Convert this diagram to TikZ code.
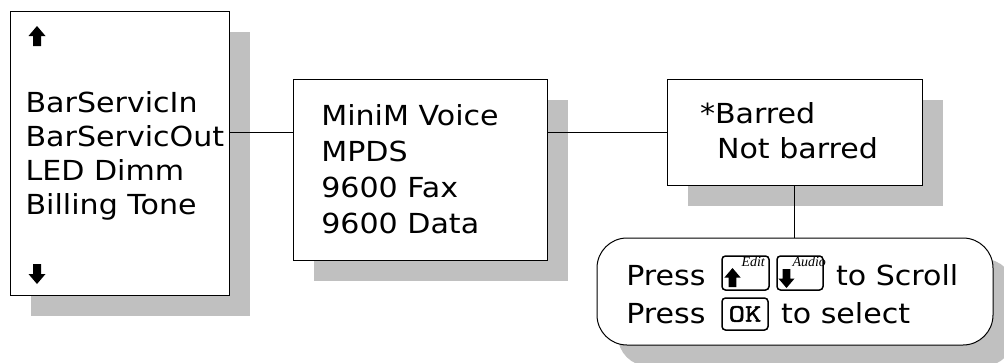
\documentclass[tikz,border=0pt]{standalone}
\usepackage{fontspec}
\setmainfont{DejaVu Sans}[FakeStretch=1.09]
\newfontfamily\keyfont{Liberation Serif}
\newfontfamily\okfont{lmmono10-regular.otf}[FakeBold=2, FakeStretch=1.25]
\usetikzlibrary{shadows}
\definecolor{shgray}{RGB}{192,192,192}
\tikzset{
  menubox/.style={draw, fill=white, line width=1pt, inner sep=0pt, outer sep=0pt,
    drop shadow={shadow xshift=21pt, shadow yshift=-21pt, opacity=1, fill=shgray}},
  helpbox/.style={menubox, rounded corners=30pt},
  keybox/.style={draw, line width=1.5pt, rounded corners=3.5pt, inner sep=0pt, outer sep=0pt},
  lbl/.style={anchor=base west, inner sep=0pt, outer sep=0pt, font=\fontsize{27.6}{33}\selectfont},
  keylbl/.style={anchor=base west, inner sep=0pt, outer sep=0pt, font=\keyfont\itshape\fontsize{14}{16}\selectfont},
  conn/.style={line width=1pt},
  uparr/.pic={\fill (0,0) -- (8.5,10) -- (4,10) -- (4,20) -- (-4,20) -- (-4,10) -- (-8.5,10) -- cycle;}
}
\begin{document}
\begin{tikzpicture}[x=1pt, y=-1pt]
\useasboundingbox (0,0) rectangle (1004,362);
% boxes
\node[menubox, minimum width=219pt, minimum height=284pt] (b1) at (119.5,153) {};
\node[menubox, minimum width=254pt, minimum height=181pt] (b2) at (420,169.5) {};
\node[menubox, minimum width=255pt, minimum height=106pt] (b3) at (794.5,132) {};
\node[helpbox, minimum width=396pt, minimum height=107pt] (hb) at (795,291.5) {};
% connectors
\draw[conn] (b1.east |- b3.west) -- (b2.west |- b3.west);
\draw[conn] (b2.east |- b3.west) -- (b3.west);
\draw[conn] (b3.south) -- (b3.south |- hb.north);
% box 1
\pic at (37,26) {uparr};
\pic[yscale=-1] at (37,284) {uparr};
\node[lbl] (l11) at (25.6,112) {BarServicIn};
\node[lbl] (l12) at (25.6,146.3) {BarServicOut};
\node[lbl] (l13) at (25.6,180.6) {LED Dimm};
\node[lbl] (l14) at (25.6,214.9) {Billing Tone};
% box 2
\node[lbl] (l21) at (321.3,125) {MiniM Voice};
\node[lbl] (l22) at (321.3,161) {MPDS};
\node[lbl] (l23) at (321.3,197) {9600 Fax};
\node[lbl] (l24) at (321.3,233) {9600 Data};
% box 3
\node[lbl] (l31) at (700,123.3) {*Barred};
\node[lbl] (l32) at (717,158.3) {Not barred};
% help bubble
\node[lbl] (p1) at (626.3,285) {Press};
\node[keybox, minimum width=47pt, minimum height=34pt] (k1) at (745.5,273) {};
\pic[scale=0.95] at (732.5,268) {uparr};
\node[keylbl] (e1) at (741.5,266) {Edit};
\node[keybox, minimum width=46pt, minimum height=34pt] (k2) at (800,273) {};
\pic[yscale=-0.95, xscale=0.95] at (786.5,288) {uparr};
\node[keylbl] (e2) at (792.5,266) {Audio};
\node[lbl] (s1) at (836,285) {to Scroll};
\node[lbl] (p2) at (626.3,323) {Press};
\node[keybox, minimum width=46pt, minimum height=32pt, font=\okfont\fontsize{25}{25}\selectfont] (k3) at (745,314) {OK};
\node[lbl] (s2) at (781,323) {to select};
\end{tikzpicture}
\end{document}
